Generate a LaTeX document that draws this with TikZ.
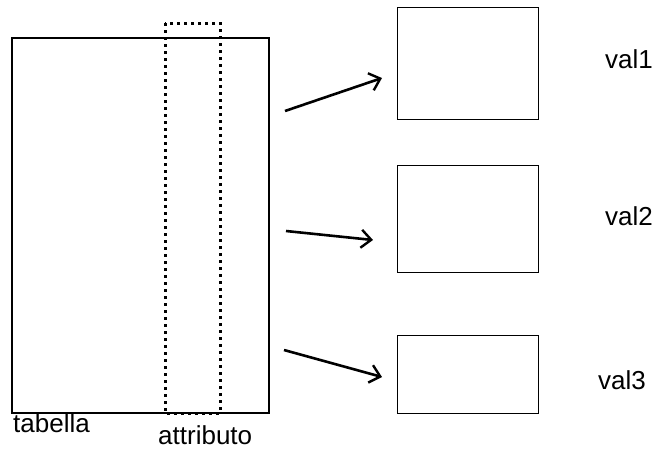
\documentclass[tikz,border=0pt]{standalone}
\usepackage{fontspec}
\setmainfont{Liberation Sans}
\usetikzlibrary{arrows.meta}
\begin{document}
\begin{tikzpicture}[x=1pt,y=-1pt,
  box/.style={draw,line width=1.4pt},
  lbl/.style={anchor=base west,inner sep=0pt,font=\fontsize{26}{30}\selectfont},
  arr/.style={line width=2.6pt,-{Straight Barb[length=10pt,width=18pt,line width=2.4pt]}}]
\useasboundingbox (0,0) rectangle (653,448);
\fill[white] (0,0) rectangle (653,448);
\draw[box] (12,38) rectangle (269,413);
\draw[line width=3pt,dash pattern=on 3pt off 4pt] (165,23) rectangle (220,413);
\node[box,minimum width=141pt,minimum height=112pt,anchor=north west,inner sep=0pt] (b1) at (397,7) {};
\node[box,minimum width=141pt,minimum height=107pt,anchor=north west,inner sep=0pt] (b2) at (397,165) {};
\node[box,minimum width=141pt,minimum height=78pt,anchor=north west,inner sep=0pt] (b3) at (397,335) {};
\coordinate (s1) at (285,111);
\coordinate (e1) at (382,78);
\coordinate (s2) at (286,231);
\coordinate (e2) at (373,240);
\coordinate (s3) at (284,350);
\coordinate (e3) at (382,377);
\draw[arr] (s1) -- (e1);
\draw[arr] (s2) -- (e2);
\draw[arr] (s3) -- (e3);
\node[lbl] (v1) at (605,68) {val1};
\node[lbl] (v2) at (605,225) {val2};
\node[lbl] (v3) at (598,389) {val3};
\node[lbl] (t) at (13,432) {tabella};
\node[lbl] (a) at (158,444) {attributo};
\end{tikzpicture}
\end{document}
